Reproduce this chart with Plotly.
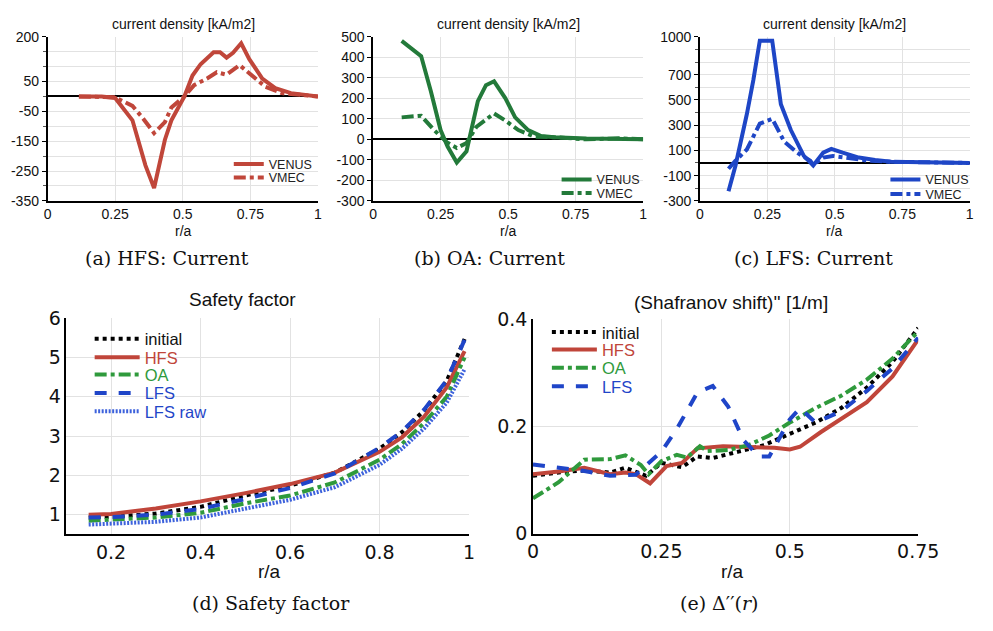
import plotly.graph_objects as go

W, H = 993, 631

# ---------------- data ----------------
# (a) HFS current density
a_x_venus = [0.116, 0.2, 0.25, 0.314, 0.362, 0.394, 0.434, 0.458, 0.506, 0.536, 0.566, 0.614, 0.638, 0.662, 0.686, 0.716, 0.746, 0.794, 0.842, 0.9, 1.0]
a_y_venus = [0, 0, -5, -80, -231, -307, -145, -80, 0, 70, 108, 148, 148, 130, 146, 178, 125, 60, 28, 11, 0]
a_x_vmec = [0.116, 0.2, 0.25, 0.314, 0.35, 0.394, 0.434, 0.458, 0.506, 0.542, 0.59, 0.626, 0.662, 0.71, 0.758, 0.806, 0.866, 1.0]
a_y_vmec = [0, 0, -3, -32, -70, -123, -86, -37, 0, 38, 60, 81, 73, 105, 70, 32, 11, 0]

# (b) OA current density
b_x_venus = [0.106, 0.178, 0.214, 0.25, 0.276, 0.31, 0.346, 0.388, 0.418, 0.448, 0.49, 0.526, 0.574, 0.622, 0.67, 0.79, 1.0]
b_y_venus = [480, 406, 234, 45, -35, -113, -58, 186, 264, 283, 200, 107, 45, 16, 10, 4, 0]
b_x_vmec = [0.106, 0.178, 0.226, 0.274, 0.31, 0.346, 0.382, 0.418, 0.448, 0.49, 0.538, 0.598, 0.67, 0.79, 0.91, 1.0]
b_y_vmec = [107, 115, 45, -15, -42, -18, 60, 99, 126, 91, 45, 13, 10, 0, 5, 0]

# (c) LFS current density
c_x_venus = [0.106, 0.132, 0.174, 0.198, 0.222, 0.268, 0.3, 0.337, 0.385, 0.42, 0.457, 0.487, 0.529, 0.589, 0.649, 0.709, 0.83, 1.0]
c_y_venus = [-224, -20, 388, 656, 969, 969, 465, 261, 57, -20, 82, 112, 82, 43, 23, 10, 5, 0]
c_x_vmec = [0.106, 0.132, 0.174, 0.222, 0.268, 0.312, 0.36, 0.409, 0.42, 0.457, 0.493, 0.553, 0.625, 0.709, 1.0]
c_y_vmec = [-46, 18, 107, 312, 350, 171, 82, 18, -15, 43, 56, 36, 18, 10, 0]

# (d) safety factor
d_x = [0.15, 0.2, 0.3, 0.4, 0.5, 0.6, 0.7, 0.8, 0.85, 0.9, 0.95, 0.99]
d_initial = [0.93, 0.95, 1.03, 1.20, 1.49, 1.74, 2.07, 2.68, 3.10, 3.66, 4.40, 5.47]
d_hfs = [1.00, 1.02, 1.16, 1.34, 1.55, 1.78, 2.07, 2.60, 2.97, 3.50, 4.24, 5.16]
d_oa = [0.85, 0.87, 0.93, 1.05, 1.29, 1.49, 1.82, 2.40, 2.80, 3.34, 4.00, 5.00]
d_lfs = [0.93, 0.94, 1.00, 1.15, 1.40, 1.68, 2.05, 2.70, 3.12, 3.68, 4.42, 5.45]
d_lfsraw = [0.75, 0.77, 0.82, 0.93, 1.16, 1.38, 1.70, 2.27, 2.68, 3.20, 3.85, 4.70]

# (e) Shafranov shift''
e_x_initial = [0, 0.05, 0.1, 0.15, 0.18, 0.22, 0.25, 0.29, 0.32, 0.35, 0.4, 0.45, 0.5, 0.55, 0.6, 0.65, 0.7, 0.75]
e_initial = [0.108, 0.114, 0.118, 0.114, 0.123, 0.108, 0.132, 0.124, 0.144, 0.141, 0.153, 0.165, 0.186, 0.207, 0.234, 0.272, 0.32, 0.383]
e_x_hfs = [0, 0.05, 0.1, 0.15, 0.18, 0.2, 0.228, 0.26, 0.29, 0.32, 0.37, 0.42, 0.47, 0.5, 0.52, 0.56, 0.6, 0.65, 0.7, 0.75]
e_hfs = [0.111, 0.116, 0.123, 0.111, 0.114, 0.111, 0.094, 0.126, 0.132, 0.159, 0.163, 0.162, 0.16, 0.157, 0.162, 0.189, 0.213, 0.245, 0.293, 0.362]
e_x_oa = [0, 0.05, 0.1, 0.15, 0.18, 0.21, 0.225, 0.25, 0.28, 0.3, 0.325, 0.34, 0.38, 0.42, 0.46, 0.5, 0.55, 0.6, 0.65, 0.7, 0.75]
e_oa = [0.066, 0.096, 0.138, 0.139, 0.146, 0.128, 0.111, 0.135, 0.147, 0.142, 0.163, 0.154, 0.156, 0.165, 0.183, 0.207, 0.234, 0.257, 0.287, 0.326, 0.377]
e_x_lfs = [0, 0.05, 0.1, 0.15, 0.2, 0.25, 0.28, 0.32, 0.35, 0.38, 0.41, 0.44, 0.46, 0.5, 0.52, 0.55, 0.6, 0.65, 0.7, 0.75]
e_lfs = [0.129, 0.123, 0.117, 0.108, 0.11, 0.153, 0.195, 0.263, 0.275, 0.237, 0.174, 0.144, 0.144, 0.213, 0.234, 0.207, 0.228, 0.266, 0.308, 0.365]

top_xticks = [0, 0.25, 0.5, 0.75, 1]
top_xtext = ["0", "0.25", "0.5", "0.75", "1"]

# ---------------- styling ----------------
RED_T, GREEN_T, BLUE_T = "#c0463a", "#237a3a", "#1e46c6"
RED, GREEN, BLUE, BLUE_RAW = "#c0453a", "#2f9a3c", "#1f45c8", "#3d62dc"
SANS = "Liberation Sans, Arial, sans-serif"
SERIF = "DejaVu Serif, serif"
GRID = "#e2e2e2"


def xd(a, b):
    return [a / W, b / W]


def yd(top, bottom):
    return [1 - bottom / H, 1 - top / H]


fig = go.Figure()

legends = {}
legend_count = [0]


def add(x, y, xa, ya, name, color, dash, width, lx, ly, fsize, fcolor, itemwidth=30):
    legend_count[0] += 1
    key = "legend" if legend_count[0] == 1 else f"legend{legend_count[0]}"
    fig.add_trace(go.Scatter(x=x, y=y, mode="lines", name=name, xaxis=xa, yaxis=ya,
                             line=dict(color=color, dash=dash, width=width),
                             legend=key, showlegend=True))
    legends[key] = dict(x=lx / W, y=1 - ly / H, xanchor="left", yanchor="middle",
                        bgcolor="rgba(0,0,0,0)", borderwidth=0, itemwidth=itemwidth,
                        font=dict(family=SANS, size=fsize, color=fcolor),
                        tracegroupgap=0)


# top panels
add(a_x_venus, a_y_venus, "x", "y", "VENUS", RED_T, "solid", 4, 229, 159, 12.5, "#222")
add(a_x_vmec, a_y_vmec, "x", "y", "VMEC", RED_T, "dashdot", 4, 229, 173, 12.5, "#222")
add(b_x_venus, b_y_venus, "x2", "y2", "VENUS", GREEN_T, "solid", 4, 566, 175, 12.5, "#222")
add(b_x_vmec, b_y_vmec, "x2", "y2", "VMEC", GREEN_T, "dashdot", 4, 566, 189, 12.5, "#222")
add(c_x_venus, c_y_venus, "x3", "y3", "VENUS", BLUE_T, "solid", 4, 904, 175, 12.5, "#222")
add(c_x_vmec, c_y_vmec, "x3", "y3", "VMEC", BLUE_T, "dashdot", 4, 904, 190, 12.5, "#222")

# (d)
dl = [340, 359, 377, 396, 415]
add(d_x, d_initial, "x4", "y4", "initial", "#000000", "dot", 4, 86, dl[0], 16.5, "#111", 45)
add(d_x, d_hfs, "x4", "y4", "HFS", RED, "solid", 4, 86, dl[1], 16.5, RED, 45)
add(d_x, d_oa, "x4", "y4", "OA", GREEN, "dashdot", 4, 86, dl[2], 16.5, GREEN, 45)
add(d_x, d_lfs, "x4", "y4", "LFS", BLUE, "dash", 4, 86, dl[3], 16.5, BLUE, 45)
add(d_x, d_lfsraw, "x4", "y4", "LFS raw", BLUE_RAW, "2px,1.5px", 4, 86, dl[4], 16.5, BLUE, 45)

# (e)
el = [333, 351, 370, 389]
add(e_x_initial, e_initial, "x5", "y5", "initial", "#000000", "dot", 4, 556, el[0], 16.5, "#111", 45)
add(e_x_hfs, e_hfs, "x5", "y5", "HFS", RED, "solid", 4, 556, el[1], 16.5, RED, 45)
add(e_x_oa, e_oa, "x5", "y5", "OA", GREEN, "dashdot", 4, 556, el[2], 16.5, GREEN, 45)
add(e_x_lfs, e_lfs, "x5", "y5", "LFS", BLUE, "dash", 4, 556, el[3], 16.5, BLUE, 45)

top_y_top, top_y_bot = 26.7, 196.7


def xaxis_top(dom, anchor):
    return dict(domain=xd(*dom), anchor=anchor, range=[0, 1], tickvals=top_xticks, ticktext=top_xtext,
                showgrid=True, gridcolor=GRID, showline=True, linecolor="black", linewidth=1.5,
                ticks="", zeroline=False, tickfont=dict(family=SANS, size=14, color="#111"))


def yaxis_top(anchor, rng, tickvals, minor_dtick):
    return dict(domain=yd(top_y_top, top_y_bot), anchor=anchor, range=rng, tickvals=tickvals,
                ticktext=[str(v) for v in tickvals],
                showgrid=True, gridcolor=GRID, showline=True, linecolor="black", linewidth=1.5,
                ticks="outside", ticklen=4, tickcolor="black",
                minor=dict(dtick=minor_dtick, tick0=0, showgrid=True, gridcolor=GRID, ticks="outside",
                           ticklen=3, tickcolor="#555"),
                zeroline=True, zerolinecolor="black", zerolinewidth=2,
                tickfont=dict(family=SANS, size=14, color="#111"))


bot_tick = dict(family="DejaVu Sans", size=19, color="#111")
layout = dict(
    width=W, height=H, margin=dict(l=0, r=0, t=0, b=0),
    paper_bgcolor="white", plot_bgcolor="white", showlegend=True,
    xaxis=xaxis_top((42.7, 320.7), "y"),
    yaxis=yaxis_top("x", [-350, 200], [200, 50, -50, -150, -250, -350], 50),
    xaxis2=xaxis_top((377.3, 655), "y2"),
    yaxis2=yaxis_top("x2", [-300, 500], [500, 400, 300, 200, 100, 0, -100, -200, -300], 100),
    xaxis3=xaxis_top((713.3, 990.7), "y3"),
    yaxis3=yaxis_top("x3", [-300, 1000], [1000, 700, 500, 300, 100, -100, -300], 100),
    xaxis4=dict(domain=xd(62, 476), anchor="y4", range=[0.1, 1], tickvals=[0.2, 0.4, 0.6, 0.8, 1],
                ticktext=["0.2", "0.4", "0.6", "0.8", "1"],
                showgrid=True, gridcolor=GRID, showline=True, linecolor="black", linewidth=1.5,
                ticks="", zeroline=False, tickfont=bot_tick),
    yaxis4=dict(domain=yd(318.3, 542.3), anchor="x4", range=[0.5, 6], tickvals=[1, 2, 3, 4, 5, 6],
                showgrid=True, gridcolor=GRID, showline=True, linecolor="black", linewidth=1.5,
                ticks="", zeroline=False, tickfont=bot_tick),
    xaxis5=dict(domain=xd(541.7, 937.7), anchor="y5", range=[0, 0.75], tickvals=[0, 0.25, 0.5, 0.75],
                ticktext=["0", "0.25", "0.5", "0.75"],
                showgrid=True, gridcolor=GRID, showline=True, linecolor="black", linewidth=1.5,
                ticks="", zeroline=False, tickfont=bot_tick),
    yaxis5=dict(domain=yd(319, 541.7), anchor="x5", range=[0, 0.4], tickvals=[0, 0.2, 0.4],
                ticktext=["0", "0.2", "0.4"],
                showgrid=True, gridcolor=GRID, showline=True, linecolor="black", linewidth=1.5,
                ticks="", zeroline=False, tickfont=bot_tick),
)
layout.update(legends)

ann = []


def text(x, y, s, size, family=SANS, color="#111"):
    ann.append(dict(x=x / W, y=1 - y / H, xref="paper", yref="paper", text=s, showarrow=False,
                    xanchor="center", yanchor="middle", font=dict(family=family, size=size, color=color)))


# top titles, axis labels, captions
for cx in [182, 517, 852]:
    text(cx, 13, "current density [kA/m2]", 14)
    text(cx, 228, "r/a", 14)
for cx, cap in [(165, "(a) HFS: Current"), (497, "(b) OA: Current"), (830, "(c) LFS: Current")]:
    text(cx, 256, cap, 19, SERIF)

text(243, 299, "Safety factor", 19)
text(271, 581, "r/a", 19)
text(272, 613, "(d) Safety factor", 19, SERIF)
text(745, 302, "(Shafranov shift)'' [1/m]", 19)
text(747, 581, "r/a", 19)
text(733, 613, "(e) Δ′′(<i>r</i>)", 19, SERIF)

layout["annotations"] = ann
fig.update_layout(**layout)
fig.write_html("out.html")
